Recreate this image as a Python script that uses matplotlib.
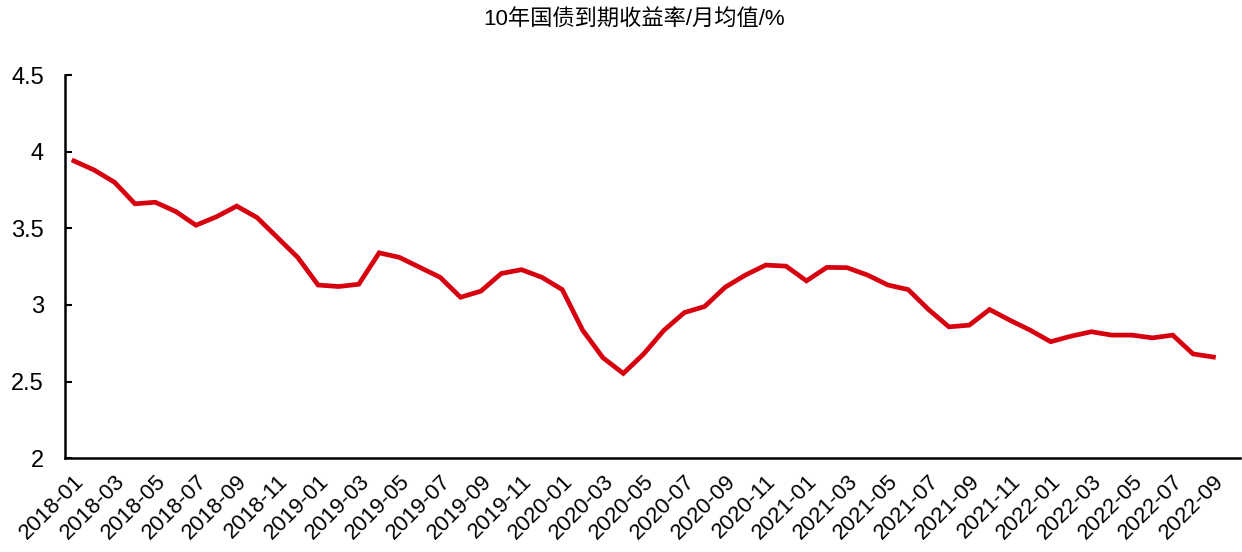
import matplotlib
matplotlib.use("Agg")
import matplotlib.pyplot as plt

plt.rcParams["font.family"] = ["Liberation Sans", "Noto Sans CJK SC", "DejaVu Sans"]

# 10-year government bond yield, monthly average (%)
months = [f"{y}-{m:02d}" for y in range(2018, 2023) for m in range(1, 13)][:57]
yields = [
    3.94, 3.88, 3.80, 3.66, 3.67, 3.61, 3.52, 3.575, 3.645, 3.57, 3.44, 3.31,
    3.13, 3.12, 3.135, 3.34, 3.31, 3.245, 3.18, 3.05, 3.09, 3.205, 3.23, 3.18,
    3.10, 2.835, 2.655, 2.553, 2.68, 2.835, 2.95, 2.99, 3.115, 3.195, 3.26, 3.253,
    3.157, 3.245, 3.243, 3.195, 3.13, 3.10, 2.97, 2.857, 2.868, 2.97, 2.90, 2.835,
    2.76, 2.796, 2.825, 2.803, 2.803, 2.785, 2.803, 2.68, 2.66,
]
ytick_vals = [2, 2.5, 3, 3.5, 4, 4.5]
ytick_labels = ["2", "2.5", "3", "3.5", "4", "4.5"]
title = "10年国债到期收益率/月均值/%"

fig = plt.figure(figsize=(12.42, 5.52), dpi=100)
ax = fig.add_axes([0.0523, 0.170, 0.946, 0.694])

x = list(range(len(months)))
ax.plot(x, yields, color="#D7000F", linewidth=3.4, solid_joinstyle="miter")

ax.set_xlim(-0.44, 57.3)
ax.set_ylim(2, 4.5)
ax.set_yticks(ytick_vals)
ax.set_yticklabels(ytick_labels, fontsize=17)
ax.set_xticks(x[::2])
ax.set_xticklabels(months[::2], rotation=45, ha="right", rotation_mode="anchor", fontsize=16)

ax.tick_params(axis="y", direction="in", length=5, width=1.5, pad=15)
ax.tick_params(axis="x", length=0, pad=9)
for side in ["top", "right"]:
    ax.spines[side].set_visible(False)
for side in ["left", "bottom"]:
    ax.spines[side].set_linewidth(1.8)

fig.text(634 / 1242, 1 - 20 / 552, title, ha="center", va="center", fontsize=16)

fig.savefig("out.png", dpi=100)
